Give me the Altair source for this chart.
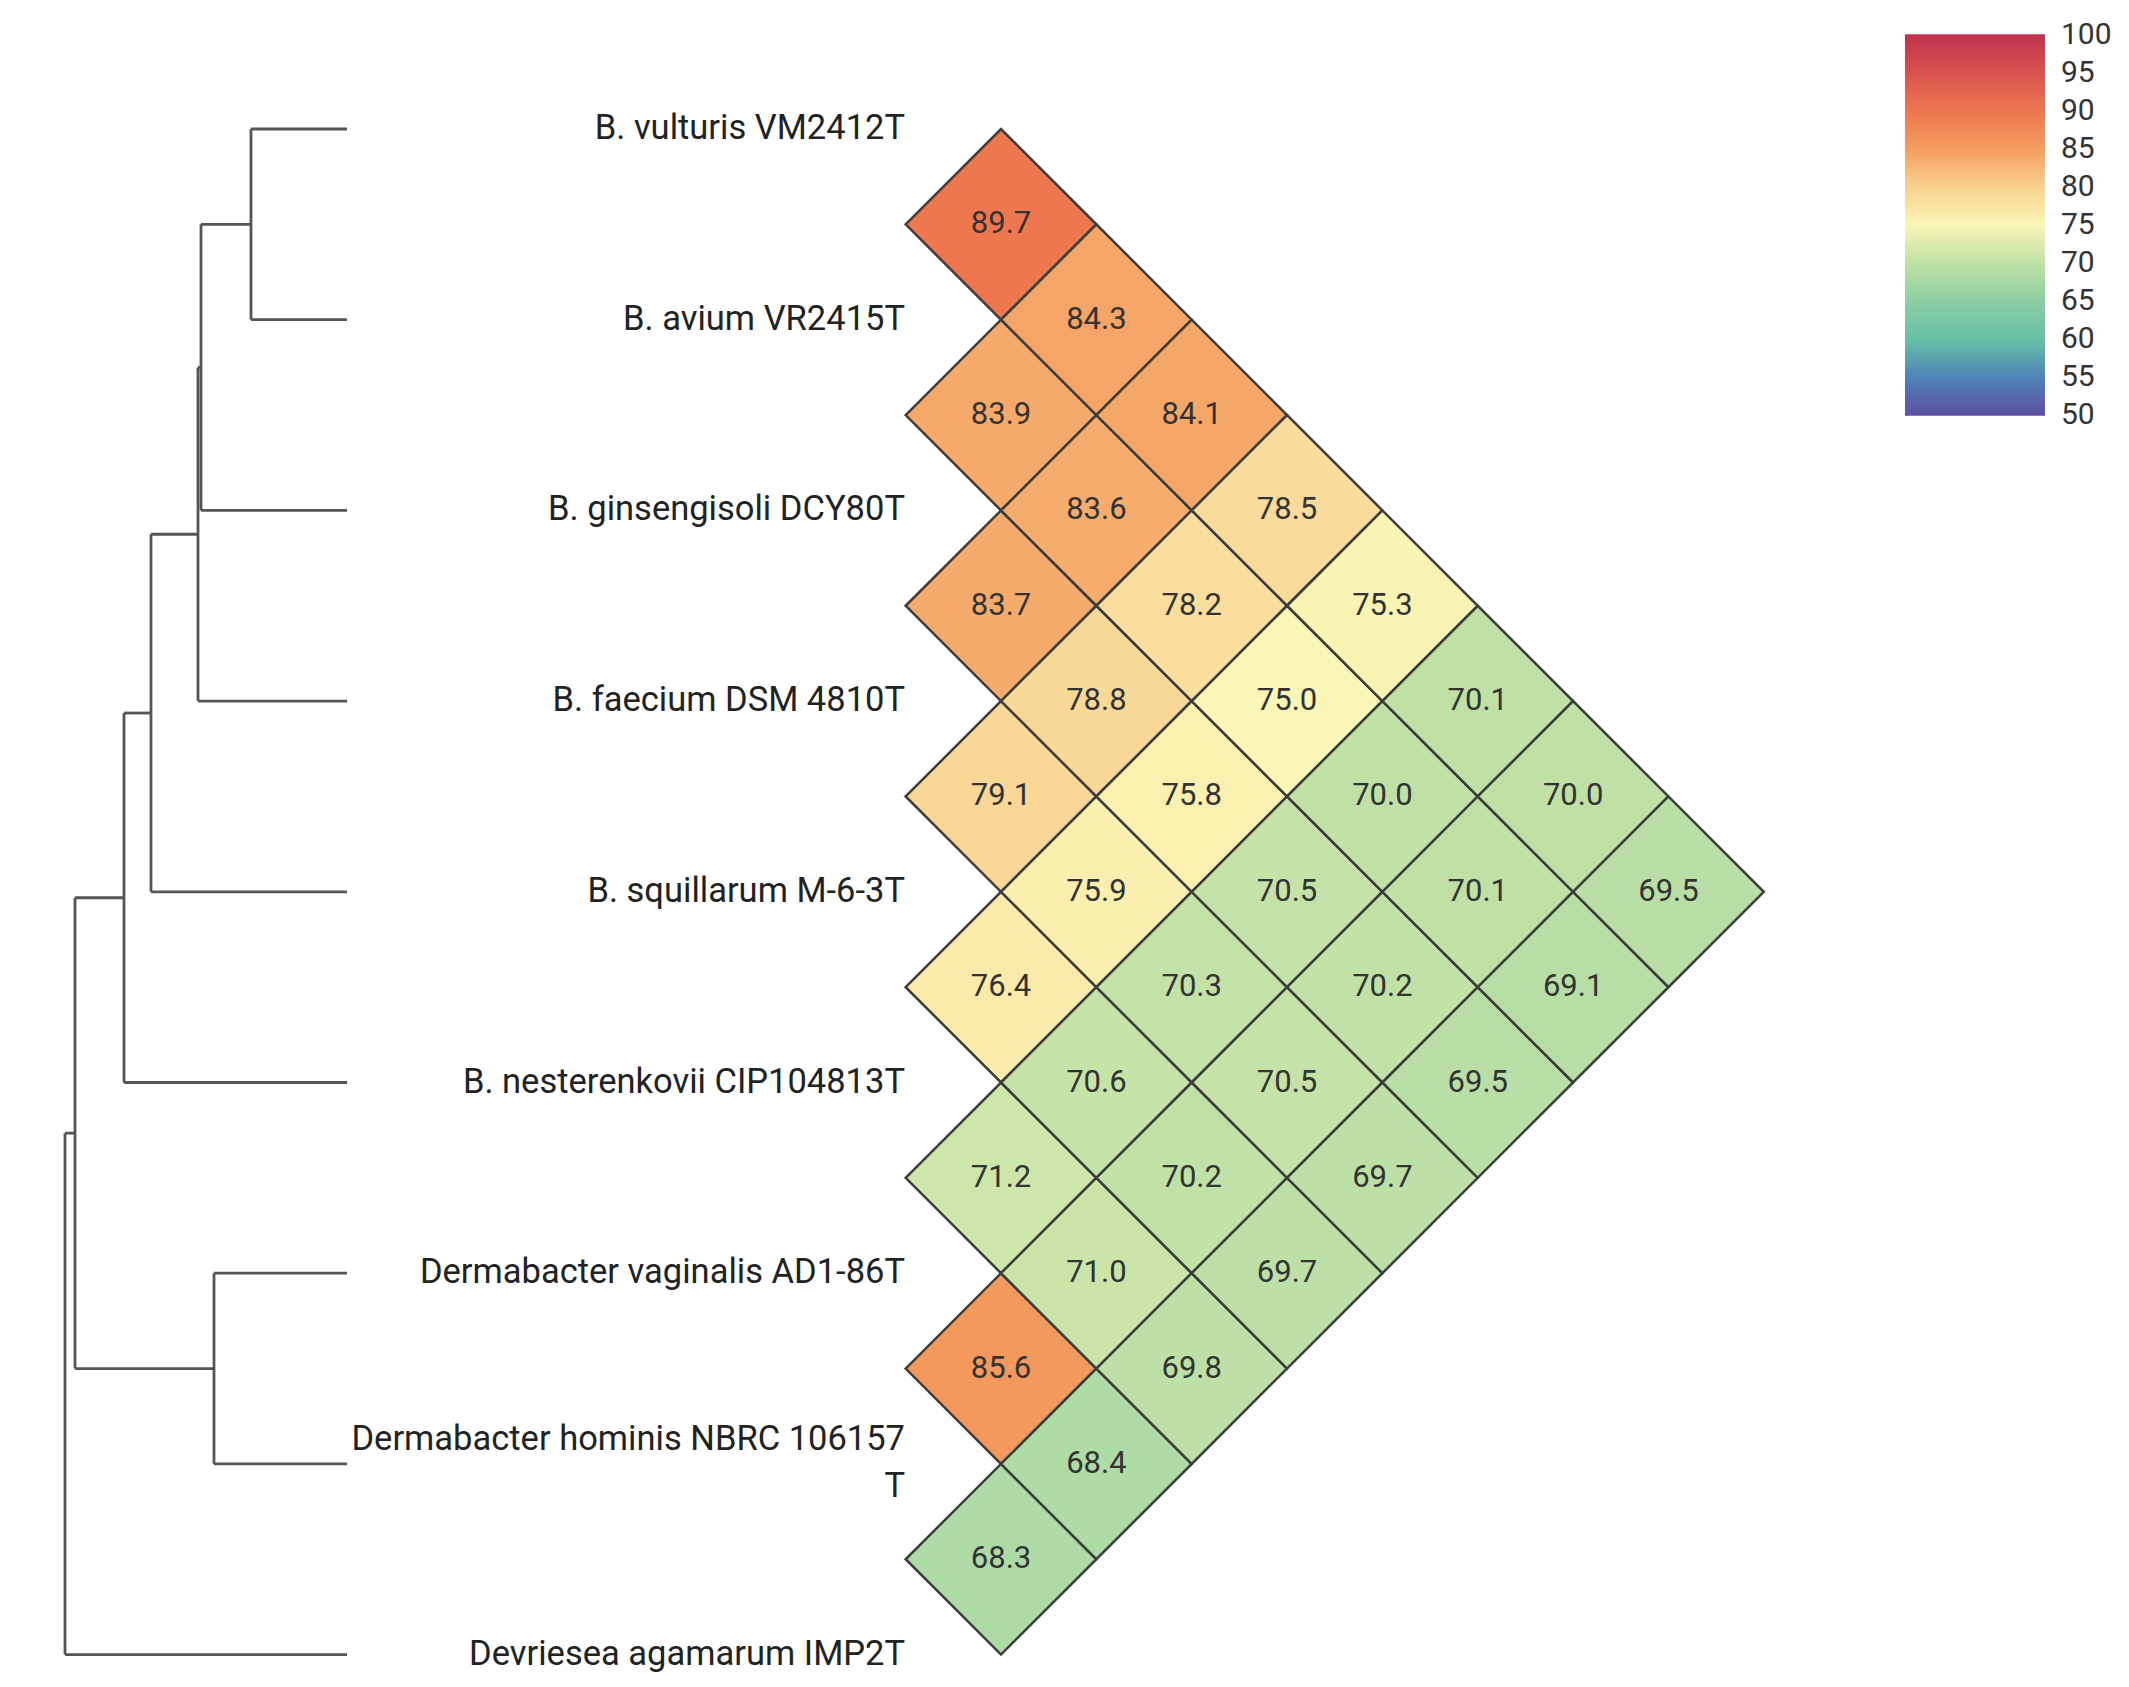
import altair as alt
import pandas as pd

# ---------------- data ----------------
species = [
    "B. vulturis VM2412T",
    "B. avium VR2415T",
    "B. ginsengisoli DCY80T",
    "B. faecium DSM 4810T",
    "B. squillarum M-6-3T",
    "B. nesterenkovii CIP104813T",
    "Dermabacter vaginalis AD1-86T",
    "Dermabacter hominis NBRC 106157\nT",
    "Devriesea agamarum IMP2T",
]

# pairwise similarity, grouped by index distance d = j - i (list runs over i)
diag1 = [89.7, 83.9, 83.7, 79.1, 76.4, 71.2, 85.6, 68.3]
diag2 = [84.3, 83.6, 78.8, 75.9, 70.6, 71.0, 68.4]
diag3 = [84.1, 78.2, 75.8, 70.3, 70.2, 69.8]
diag4 = [78.5, 75.0, 70.5, 70.5, 69.7]
diag5 = [75.3, 70.0, 70.2, 69.7]
diag6 = [70.1, 70.1, 69.5]
diag7 = [70.0, 69.1]
diag8 = [69.5]
diags = [diag1, diag2, diag3, diag4, diag5, diag6, diag7, diag8]

# dendrogram topology (children) and node depths (horizontal position)
tree_children = {
    "n_va": ["t0", "t1"],
    "n_vag": ["n_va", "t2"],
    "n_vagf": ["n_vag", "t3"],
    "n_vagfs": ["n_vagf", "t4"],
    "n_brev": ["n_vagfs", "t5"],
    "n_derm": ["t6", "t7"],
    "n_bd": ["n_brev", "n_derm"],
    "root": ["n_bd", "t8"],
}
node_depth = {
    "n_va": 251, "n_vag": 201, "n_vagf": 198, "n_vagfs": 151,
    "n_brev": 124, "n_derm": 214, "n_bd": 75, "root": 65,
}
tip_depth = 347

legend_values = [50, 55, 60, 65, 70, 75, 80, 85, 90, 95, 100]
color_stops = [49.9, 50, 55, 60, 65, 70, 75, 80, 85, 90, 95, 100, 100.1]
color_range = ["#5e4fa2", "#5e4fa2", "#4f84b8", "#66c2a5", "#8dcea3", "#bfe1a6", "#faf6b6",
               "#f9d08f", "#f49e60", "#ed764f", "#d9534f", "#c0334f", "#c0334f"]

# ---------------- layout constants ----------------
W, H = 2112, 1670
STEP = 190.7          # px between taxa
Y0 = 129              # page y of first taxon
X_HEAT0 = 1001        # page x of first heat column centre
LABEL_RIGHT = 905
LABEL_LH = 47
FONT = "Roboto, sans-serif"
GRAD_LEN = 380 * (color_stops[-1] - color_stops[0]) / (100 - 50)

# ---------------- derived tables ----------------
cells = []
for d, arr in enumerate(diags, start=1):
    for i, v in enumerate(arr):
        j = i + d
        cells.append({"i": i, "j": j, "value": v,
                      "xc": X_HEAT0 + (d - 1) * STEP / 2, "yc": (i + j) / 2})
cells_df = pd.DataFrame(cells)

nlines = [s.count("\n") + 1 for s in species]
labels_df = pd.DataFrame({
    "name": species,
    "ly": [k - (n - 1) / 2 * LABEL_LH / STEP for k, n in enumerate(nlines)],
    "lx": [LABEL_RIGHT] * len(species),
})

pos_y = {}
def node_y(n):
    if n.startswith("t"):
        return float(int(n[1:]))
    if n not in pos_y:
        ch = tree_children[n]
        pos_y[n] = (node_y(ch[0]) + node_y(ch[-1])) / 2
    return pos_y[n]

def node_x(n):
    return tip_depth if n.startswith("t") else node_depth[n]

segs = []
for n, ch in tree_children.items():
    ys_ = [node_y(c) for c in ch]
    segs.append({"x1": node_x(n), "x2": node_x(n), "y1": min(ys_), "y2": max(ys_)})
    for c in ch:
        segs.append({"x1": node_x(n), "x2": node_x(c), "y1": node_y(c), "y2": node_y(c)})
tree_df = pd.DataFrame(segs)

# ---------------- scales ----------------
xs = alt.Scale(domain=[8, 8 + W], nice=False, zero=False)
ys = alt.Scale(domain=[(8 - Y0) / STEP, (8 + H - Y0) / STEP], reverse=True, nice=False, zero=False)
cs = alt.Scale(domain=color_stops, range=color_range, interpolate="rgb")

tree = alt.Chart(tree_df).mark_rule(color="#555555", strokeWidth=2.8).encode(
    x=alt.X("x1:Q", scale=xs, axis=None),
    x2="x2:Q",
    y=alt.Y("y1:Q", scale=ys, axis=None),
    y2="y2:Q",
)

labels = alt.Chart(labels_df).mark_text(
    align="right", baseline="middle", fontSize=34.5, font=FONT, color="#222222",
    lineBreak="\n", lineHeight=LABEL_LH,
).encode(
    x=alt.X("lx:Q", scale=xs, axis=None),
    y=alt.Y("ly:Q", scale=ys, axis=None),
    text="name:N",
)

diamonds = alt.Chart(cells_df).mark_point(
    shape="diamond", filled=True, size=STEP * STEP, stroke="#3d3d3d",
    strokeWidth=2.5, opacity=1, fillOpacity=1, strokeOpacity=1,
).encode(
    x=alt.X("xc:Q", scale=xs, axis=None),
    y=alt.Y("yc:Q", scale=ys, axis=None),
    color=alt.Color("value:Q", scale=cs, legend=alt.Legend(
        title=None, orient="none", direction="vertical",
        legendX=1897, legendY=27 - (GRAD_LEN - 380) / 2,
        gradientLength=GRAD_LEN, gradientThickness=140,
        gradientStrokeWidth=0, values=legend_values, format="d",
        labelFont=FONT, labelFontSize=30, labelColor="#333333",
        labelAlign="right", labelBaseline="middle", labelOffset=16,
        labelOverlap=False, padding=0,
    )),
)

values = alt.Chart(cells_df).mark_text(
    fontSize=31, font=FONT, color="#333333", baseline="middle", align="center",
).encode(
    x=alt.X("xc:Q", scale=xs, axis=None),
    y=alt.Y("yc:Q", scale=ys, axis=None),
    text=alt.Text("value:Q", format=".1f"),
)

chart = alt.layer(tree, labels, diamonds, values).properties(
    width=W, height=H, padding=0, autosize=alt.AutoSizeParams(type="none"),
).configure_view(stroke=None)

chart.save("out.html", embed_options={"renderer": "svg", "actions": False})
